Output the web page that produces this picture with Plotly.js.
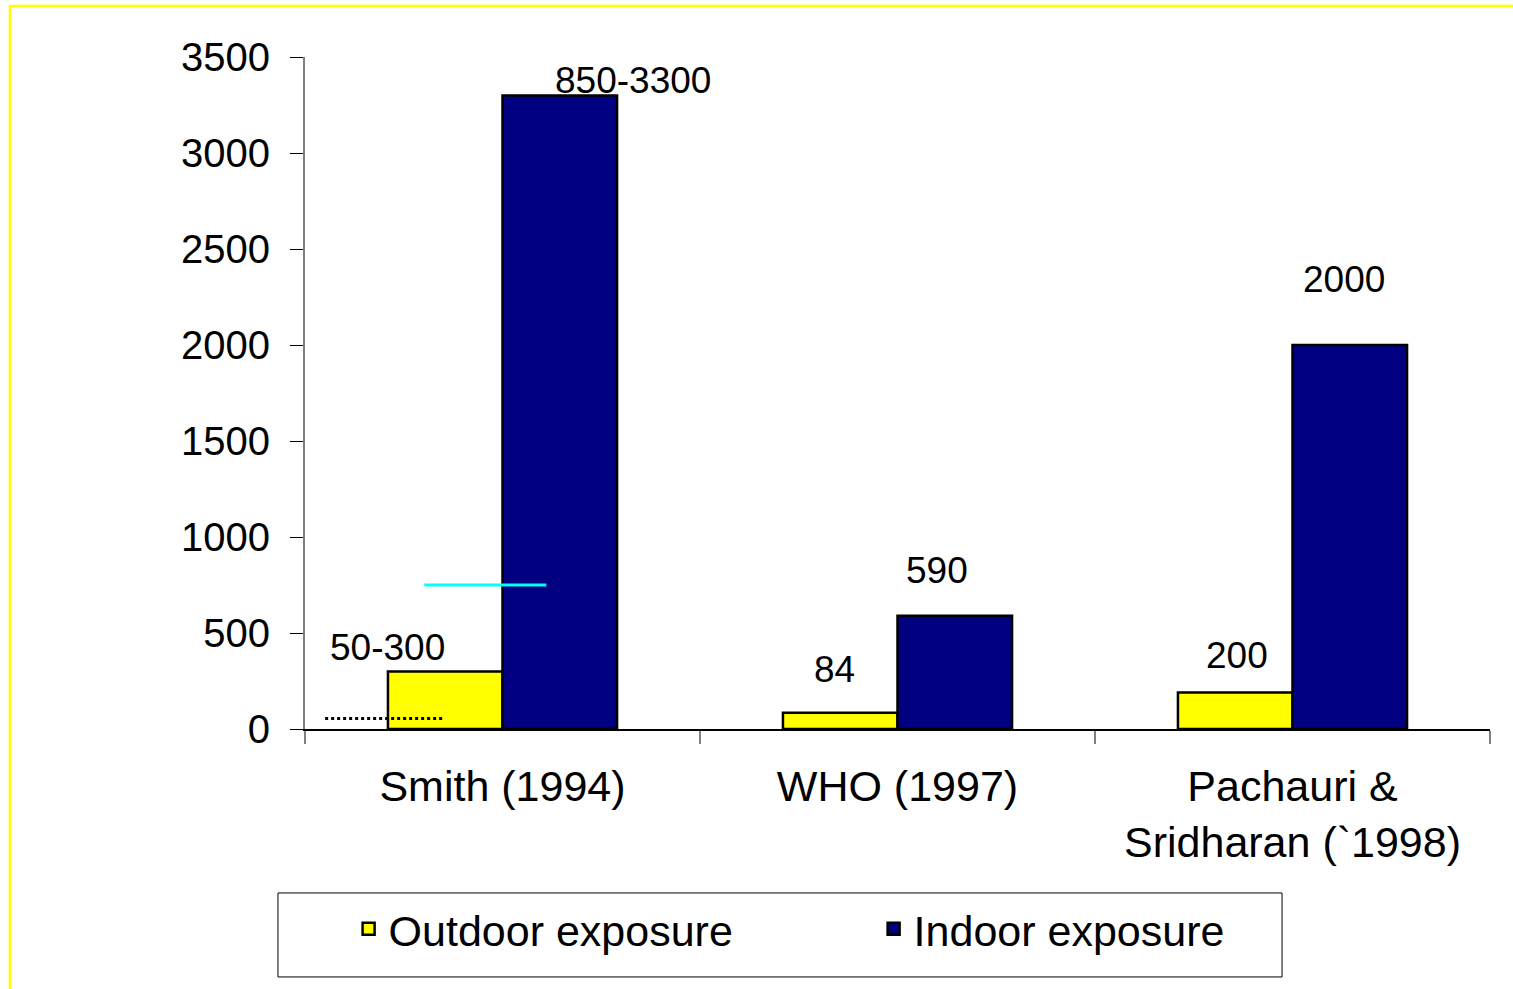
<!DOCTYPE html>
<html>
<head>
<meta charset="utf-8">
<script src="https://cdn.plot.ly/plotly-3.0.1.min.js"></script>
<style>
  body { margin: 0; background: #fff; }
  #chart { width: 1513px; height: 989px; }
</style>
</head>
<body>
<div id="chart"></div>
<script>
// studies on the x axis
var studies = ['Smith (1994)', 'WHO (1997)', 'Pachauri &<br>Sridharan (`1998)'];
// bar heights
var outdoor = [300, 84, 190];
var indoor = [3300, 590, 2000];
// the text printed above each bar
var outdoorLabels = ['50-300', '84', '200'];
var indoorLabels = ['850-3300', '590', '2000'];
// extra range marks drawn on the Smith group
var cyanLevel = 750;
var dottedLevel = 55;

var FONT = 'Liberation Sans, Arial, sans-serif';

function drawChart() {
  var outdoorTrace = {
    x: studies,
    y: outdoor,
    type: 'bar',
    name: 'Outdoor exposure',
    marker: {color: '#ffff00', line: {color: '#000', width: 2.5}},
    hoverinfo: 'skip'
  };
  var indoorTrace = {
    x: studies,
    y: indoor,
    type: 'bar',
    name: 'Indoor exposure',
    marker: {color: '#000080', line: {color: '#000', width: 2.5}},
    hoverinfo: 'skip'
  };

  // labels sit a little off the bars, like the hand placed text boxes
  var notes = [];
  var outDx = [-0.29, -0.16, -0.14], outDy = [127, 228, 195];
  var inDx = [0.33, 0.10, 0.13], inDy = [80, 233, 339];
  for (var i = 0; i < studies.length; i++) {
    notes.push({x: i + outDx[i], y: outdoor[i] + outDy[i], xref: 'x', yref: 'y',
      text: outdoorLabels[i], showarrow: false, font: {size: 37, color: '#000', family: FONT}});
    notes.push({x: i + inDx[i], y: indoor[i] + inDy[i], xref: 'x', yref: 'y',
      text: indoorLabels[i], showarrow: false, font: {size: 37, color: '#000', family: FONT}});
  }

  var layout = {
    width: 1513,
    height: 989,
    margin: {l: 305, r: 23, t: 57, b: 260},
    paper_bgcolor: '#fff',
    plot_bgcolor: '#fff',
    font: {family: FONT, color: '#000'},
    barmode: 'group',
    bargap: 0.42,
    bargroupgap: 0,
    showlegend: true,
    legend: {
      orientation: 'h',
      x: 0.0368, xanchor: 'left',
      y: -0.2975, yanchor: 'middle',
      bgcolor: 'rgba(0,0,0,0)',
      borderwidth: 0,
      entrywidthmode: 'pixels',
      entrywidth: 480,
      font: {size: 43, family: FONT, color: '#000'}
    },
    xaxis: {
      type: 'category',
      showline: true, linecolor: '#000', linewidth: 1.5,
      ticks: 'outside', tickson: 'boundaries', ticklen: 13, tickcolor: '#808080', tickwidth: 1.5,
      tickfont: {size: 43, family: FONT, color: '#000'},
      ticklabelstandoff: 19,
      showgrid: false, zeroline: false
    },
    yaxis: {
      range: [0, 3500],
      tickvals: [0, 500, 1000, 1500, 2000, 2500, 3000, 3500],
      showline: true, linecolor: '#808080', linewidth: 2,
      ticks: 'outside', ticklen: 13, tickcolor: '#000', tickwidth: 1,
      tickfont: {size: 40, family: FONT, color: '#000'},
      ticklabelstandoff: 12,
      showgrid: false, zeroline: false
    },
    annotations: notes,
    shapes: [
      // yellow frame round the whole slide chart
      {type: 'rect', xref: 'paper', yref: 'paper', x0: -0.249, x1: 1.05, y0: -0.42, y1: 1.0759,
        line: {color: '#ffff00', width: 2.5}, layer: 'below'},
      // legend box
      {type: 'rect', xref: 'paper', yref: 'paper', x0: -0.0228, x1: 0.8245, y0: -0.369, y1: -0.244,
        line: {color: '#000', width: 1}},
      // cyan mark
      {type: 'line', xref: 'x', yref: 'y', x0: -0.198, x1: 0.111, y0: cyanLevel, y1: cyanLevel,
        line: {color: '#00ffff', width: 3}},
      // dotted mark
      {type: 'line', xref: 'x', yref: 'y', x0: -0.449, x1: -0.152, y0: dottedLevel, y1: dottedLevel,
        line: {color: '#000', width: 3, dash: 'dot'}}
    ]
  };

  Plotly.newPlot('chart', [outdoorTrace, indoorTrace], layout, {displayModeBar: false, staticPlot: true});
}

document.addEventListener('DOMContentLoaded', drawChart, false);
</script>
</body>
</html>
